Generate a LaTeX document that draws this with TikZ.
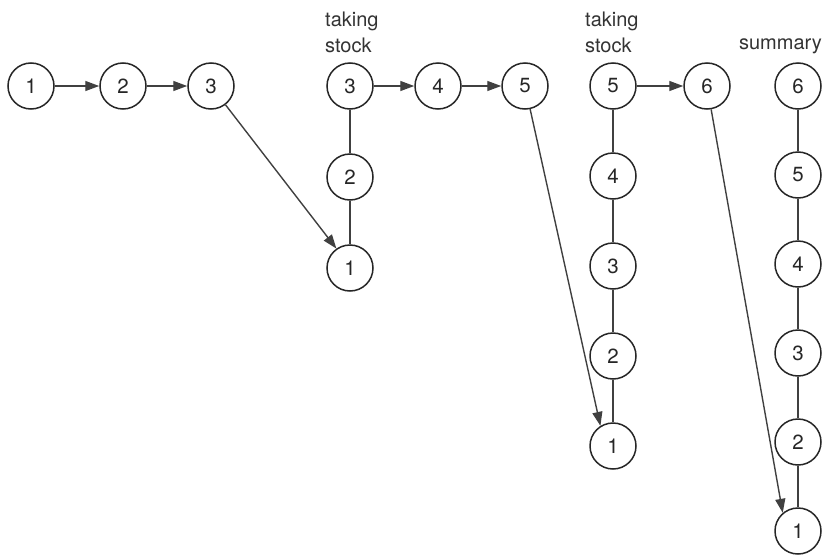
\documentclass[tikz,border=0pt]{standalone}
\usepackage{fontspec}
\setmainfont{TeX Gyre Heros}
\usetikzlibrary{arrows.meta}
\begin{document}
\begin{tikzpicture}[x=1pt,y=-1pt,
  state/.style={circle,draw=black!85,line width=1.5pt,minimum size=46pt,
    inner sep=0pt,font=\fontsize{20.5}{20.5}\selectfont,text=black!85},
  link/.style={draw=black!75,line width=1.4pt},
  flow/.style={link,-{Triangle[length=14pt,width=10pt]}},
  caption/.style={font=\fontsize{20}{20}\selectfont,text=black!80,inner sep=0pt}]
\useasboundingbox (0,0) rectangle (825,557);

% first run
\node[state] (a1) at (31,86) {1};
\node[state] (a2) at (123,86) {2};
\node[state] (a3) at (211,86) {3};

% second stage
\node[state] (b3) at (350,86) {3};
\node[state] (b2) at (350,177) {2};
\node[state] (b1) at (350,268) {1};
\node[state] (b4) at (438,86) {4};
\node[state] (b5) at (525,86) {5};

% third stage
\node[state] (c5) at (613,86) {5};
\node[state] (c4) at (613,176) {4};
\node[state] (c3) at (613,266) {3};
\node[state] (c2) at (613,356) {2};
\node[state] (c1) at (613,446) {1};
\node[state] (c6) at (707,86) {6};

% summary column
\node[state] (d6) at (798,86) {6};
\node[state] (d5) at (798,175) {5};
\node[state] (d4) at (798,264) {4};
\node[state] (d3) at (798,353) {3};
\node[state] (d2) at (798,442) {2};
\node[state] (d1) at (798,531) {1};

% captions
\node[caption,anchor=west] (t1) at (325,21) {taking};
\node[caption,anchor=west] (s1) at (325,45) {stock};
\node[caption,anchor=west] (t2) at (585,21) {taking};
\node[caption,anchor=west] (s2) at (585,45) {stock};
\node[caption,anchor=east] (sm) at (822,46) {summary};

% forward arrows
\draw[flow] (a1) -- (a2);
\draw[flow] (a2) -- (a3);
\draw[flow] (b3) -- (b4);
\draw[flow] (b4) -- (b5);
\draw[flow] (c5) -- (c6);

% stacks
\draw[link] (b3) -- (b2) -- (b1);
\draw[link] (c5) -- (c4) -- (c3) -- (c2) -- (c1);
\draw[link] (d6) -- (d5) -- (d4) -- (d3) -- (d2) -- (d1);

% drops to the bottom of each stack
\draw[flow] (a3) -- (b1.125);
\draw[flow] (b5) -- (c1.122);
\draw[flow] (c6) -- (d1.130);
\end{tikzpicture}
\end{document}
